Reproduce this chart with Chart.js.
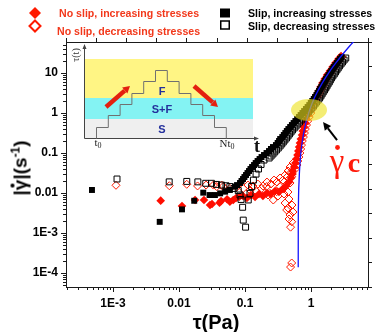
<!DOCTYPE html>
<html>
<head>
<meta charset="utf-8">
<script src="https://cdn.jsdelivr.net/npm/chart.js@4.4.1/dist/chart.umd.min.js"></script>
<style>
  body { margin: 0; background: #fff; }
  #box { position: relative; width: 379px; height: 332px; overflow: hidden; background: #fff; }
  #box canvas { position: absolute; left: 0; top: 0; }
  .t { position: absolute; white-space: nowrap; line-height: 1; transform: translate(-50%, -50%); font-family: "Liberation Sans", Arial, sans-serif; color: #000; }
  .l { transform: translate(0, -50%); }
  .leg { font-size: 10.6px; font-weight: bold; }
  .red { color: #f2381b; }
  .ins { color: #24309c; font-size: 11px; font-weight: bold; }
  .serif { font-family: "Liberation Serif", "Times New Roman", serif; }
  .ytitle { transform: translate(-50%, -50%) rotate(-90deg); font-size: 19px; font-weight: bold; }
  .gdot { position: relative; display: inline-block; }
  .gdot i { position: absolute; left: 3px; top: 0px; width: 4px; height: 4px; border-radius: 50%; background: #000; }
  sup { font-size: 12px; vertical-align: 7px; line-height: 0; }
  sub { font-size: 8px; vertical-align: -2px; line-height: 0; }
</style>
</head>
<body>
<div id="box">
  <canvas id="chart" width="379" height="332"></canvas>

  <div class="t l leg red" style="left:59px;top:13px">No slip, increasing stresses</div>
  <div class="t l leg red" style="left:57px;top:31px">No slip, decreasing stresses</div>
  <div class="t l leg" style="left:248px;top:13px">Slip, increasing stresses</div>
  <div class="t l leg" style="left:248px;top:26px">Slip, decreasing stresses</div>

  <div class="t ins" style="left:162px;top:91px">F</div>
  <div class="t ins" style="left:162px;top:109px">S+F</div>
  <div class="t ins" style="left:162px;top:129px">S</div>
  <div class="t serif" style="left:98px;top:142px;font-size:11px;color:#222">t<sub>0</sub></div>
  <div class="t serif" style="left:227px;top:143px;font-size:11px;color:#222">Nt<sub>0</sub></div>
  <div class="t serif" style="left:257px;top:146px;font-size:18px;font-weight:bold;color:#111">t</div>
  <div class="t serif" style="left:76px;top:55px;font-size:10px;color:#333;transform:translate(-50%,-50%) rotate(-90deg)">τ(t)</div>

  <div class="t serif" style="left:337px;top:161px;font-size:33px;color:#ff1a0a">γ</div>
  <div class="t serif" style="left:354px;top:163px;font-size:28px;font-weight:bold;color:#ff1a0a">c</div>

  <div class="t ytitle" style="left:20px;top:168px">|<span class="gdot">γ<i></i></span>|(s<sup>-1</sup>)</div>
  <div class="t" style="left:216px;top:322px;font-size:20px;font-weight:bold">τ(Pa)</div>
</div>

<script>
// axis ranges and tick labels
const tauMin = 1.94e-4, tauMax = 7.3;
const rateMin = 4.47e-5, rateMax = 59.6;
const xTickValues = [1e-3, 0.01, 0.1, 1];
const xTickLabels = ['1E-3', '0.01', '0.1', '1'];
const yTickValues = [1e-4, 1e-3, 0.01, 0.1, 1, 10];
const yTickLabels = ['1E-4', '1E-3', '0.01', '0.1', '1', '10'];

// no slip, increasing stresses (red filled diamonds)
const noSlipIncTau = [0.00528, 0.0111, 0.0175, 0.0239, 0.0295, 0.0316, 0.0411, 0.0434, 0.0535, 0.059, 0.0663, 0.0732, 0.0819,
  0.0933, 0.107, 0.123, 0.142, 0.163, 0.187, 0.215, 0.247, 0.285, 0.327, 0.376, 0.418, 0.464, 0.498, 0.525,
  0.526, 0.557, 0.58, 0.599, 0.624, 0.642, 0.66, 0.679, 0.701, 0.731, 0.749, 0.78, 0.814, 0.852, 0.901, 0.952,
  1.007, 1.065, 1.13, 1.21, 1.3, 1.39, 1.49, 1.61, 1.75, 1.93, 2.12, 2.34, 2.6, 2.85];
const noSlipIncRate = [0.00645, 0.00473, 0.00668, 0.00668, 0.00501, 0.00531, 0.00572, 0.00631, 0.00696, 0.00606, 0.00668, 0.0075, 0.00808,
  0.00841, 0.0075, 0.00891, 0.00794, 0.00944, 0.00841, 0.01, 0.00944, 0.0112, 0.0106, 0.0126, 0.015, 0.0188, 0.0237, 0.0299,
  0.0355, 0.0447, 0.0562, 0.0708, 0.0891, 0.112, 0.141, 0.178, 0.224, 0.282, 0.355, 0.447, 0.562, 0.708, 0.891, 1.12,
  1.41, 1.78, 2.24, 2.82, 3.55, 4.47, 5.62, 7.08, 8.91, 11.2, 14.1, 17.8, 22.4, 26.6];

// no slip, decreasing stresses (red open diamonds)
const noSlipDecTau = [0.00111, 0.00713, 0.0131, 0.0191, 0.0257, 0.0332, 0.0373, 0.0443, 0.0464, 0.059, 0.0749, 0.094, 0.119, 0.15,
  0.179, 0.213, 0.239, 0.268, 0.302, 0.339, 0.38,
  0.111, 0.132, 0.157, 0.187, 0.215, 0.247, 0.275, 0.305, 0.339, 0.376, 0.404, 0.433, 0.448, 0.481, 0.506, 0.534,
  0.223, 0.316, 0.39, 0.448,
  0.464, 0.404, 0.515, 0.428, 0.448, 0.481, 0.534, 0.51, 0.464, 0.49, 0.51, 0.49, 0.481, 0.51,
  0.58, 0.614, 0.631, 0.656, 0.679, 0.698, 0.718, 0.738, 0.767, 0.794, 0.82, 0.855, 0.891, 0.939, 0.993,
  1.05, 1.11, 1.17, 1.25, 1.35, 1.44, 1.55, 1.66, 1.8, 1.97, 2.17, 2.39, 2.63, 2.96];
const noSlipDecRate = [0.0156, 0.0152, 0.0165, 0.015, 0.0158, 0.0158, 0.0145, 0.0158, 0.0145, 0.013, 0.0141, 0.013, 0.0119, 0.0108,
  0.013, 0.0145, 0.0098, 0.00668, 0.0108, 0.0145, 0.013,
  0.0158, 0.015, 0.0167, 0.015, 0.0188, 0.0168, 0.0211, 0.0188, 0.0237, 0.0211, 0.0282, 0.0251, 0.0355, 0.0447, 0.0335, 0.0562,
  0.00891, 0.00841, 0.00944, 0.0106,
  0.00708, 0.00562, 0.00501, 0.00376, 0.00422, 0.00282, 0.00335, 0.00191, 0.00224, 0.0014, 0.000178, 0.000141, 0.0178, 0.0255,
  0.0398, 0.0501, 0.0631, 0.0794, 0.1, 0.126, 0.158, 0.2, 0.251, 0.316, 0.398, 0.501, 0.631, 0.794, 1.0,
  1.26, 1.58, 2.0, 2.51, 3.16, 3.98, 5.01, 6.31, 7.94, 10.0, 12.6, 15.8, 20.0, 25.1];

// slip, increasing stresses (black filled squares)
const slipIncTau = [0.00048, 0.0051, 0.0111, 0.017, 0.0233, 0.029, 0.035, 0.042, 0.05, 0.059, 0.0706,
  0.0757, 0.084, 0.0885, 0.0933, 0.098, 0.1036, 0.109, 0.115, 0.121, 0.128, 0.137, 0.145, 0.155, 0.166, 0.178, 0.194,
  0.212, 0.231, 0.247, 0.265, 0.294, 0.312, 0.328, 0.341, 0.367, 0.387, 0.408, 0.43, 0.454, 0.483, 0.513, 0.545,
  0.58, 0.616, 0.656, 0.696, 0.741, 0.786, 0.837, 0.888, 0.941, 0.991, 1.045, 1.1, 1.15, 1.21, 1.26, 1.32,
  1.37, 1.43, 1.49, 1.55, 1.62, 1.68, 1.76, 1.84, 1.93, 2.02, 2.12, 2.21, 2.33, 2.46, 2.59, 2.74, 2.9];
const slipIncRate = [0.0119, 0.0019, 0.0039, 0.0064, 0.0102, 0.0089, 0.0089, 0.0098, 0.0108, 0.0119, 0.0145,
  0.0158, 0.0178, 0.02, 0.0224, 0.0251, 0.0282, 0.0316, 0.0355, 0.0398, 0.0447, 0.0501, 0.0562, 0.0631, 0.0708, 0.0794, 0.0891,
  0.1, 0.112, 0.126, 0.141, 0.158, 0.178, 0.2, 0.224, 0.251, 0.282, 0.316, 0.355, 0.398, 0.447, 0.501, 0.562,
  0.631, 0.708, 0.794, 0.891, 1.0, 1.12, 1.26, 1.41, 1.58, 1.78, 2.0, 2.24, 2.51, 2.82, 3.16, 3.55,
  3.98, 4.47, 5.01, 5.62, 6.31, 7.08, 7.94, 8.91, 10.0, 11.2, 12.6, 14.1, 15.8, 17.8, 20.0, 22.4, 25.1];

// slip, decreasing stresses (black open squares)
const slipDecTau = [0.00115, 0.0071, 0.0131, 0.0193, 0.0254, 0.031, 0.037, 0.044, 0.0515, 0.059, 0.068, 0.079,
  0.084, 0.087, 0.092, 0.094, 0.102, 0.112, 0.119, 0.126, 0.134, 0.147, 0.16, 0.175, 0.194,
  0.232, 0.248, 0.265, 0.282, 0.3, 0.319, 0.34, 0.36, 0.38, 0.402, 0.426, 0.448, 0.472, 0.498, 0.525, 0.557,
  0.593, 0.63, 0.67, 0.712, 0.756, 0.804, 0.855, 0.909, 0.966, 1.026, 1.091, 1.15, 1.21, 1.28, 1.35, 1.41,
  1.47, 1.53, 1.6, 1.67, 1.74, 1.81, 1.89, 1.96, 2.04, 2.14, 2.25, 2.35, 2.46, 2.58, 2.7, 2.85, 3.0, 3.17, 3.36];
const slipDecRate = [0.0224, 0.019, 0.0195, 0.019, 0.0175, 0.0175, 0.0164, 0.0158, 0.0152, 0.0145, 0.013, 0.0115,
  0.00891, 0.0069, 0.0044, 0.0021, 0.0014, 0.0067, 0.0098, 0.0145, 0.021, 0.0297, 0.0398, 0.0517, 0.0667,
  0.075, 0.0841, 0.0944, 0.106, 0.119, 0.133, 0.15, 0.168, 0.188, 0.211, 0.237, 0.266, 0.299, 0.335, 0.376, 0.422,
  0.473, 0.531, 0.596, 0.668, 0.75, 0.841, 0.944, 1.06, 1.19, 1.33, 1.5, 1.68, 1.88, 2.11, 2.37, 2.66,
  2.99, 3.35, 3.76, 4.22, 4.73, 5.31, 5.96, 6.68, 7.5, 8.41, 9.44, 10.6, 11.9, 13.3, 15.0, 16.8, 18.8, 21.1, 23.7];

// fitted flow curve (blue line)
const fitTau = [0.64, 0.641, 0.645, 0.659, 0.678, 0.70, 0.769, 0.842, 0.938, 1.14, 1.47, 1.92, 2.45, 3.2, 3.88, 4.6];
const fitRate = [1.4e-4, 1e-3, 0.005, 0.02, 0.05, 0.1, 0.3, 0.6, 1.1, 2.5, 5.5, 11, 19, 33, 48, 66];

// critical shear rate marker (ellipse) and arrow, in data units
const critTau = 0.933, critRate = 1.19;
const arrowFrom = [2.48, 0.211], arrowTo = [1.52, 0.595];

function pts(xs, ys) {
  return xs.map((x, i) => ({ x: x, y: ys[i] }));
}

function arrow(ctx, x1, y1, x2, y2, w, head, half, color) {
  const a = Math.atan2(y2 - y1, x2 - x1);
  const bx = x2 - head * Math.cos(a), by = y2 - head * Math.sin(a);
  ctx.strokeStyle = color;
  ctx.lineWidth = w;
  ctx.beginPath();
  ctx.moveTo(x1, y1);
  ctx.lineTo(bx, by);
  ctx.stroke();
  ctx.fillStyle = color;
  ctx.beginPath();
  ctx.moveTo(x2, y2);
  ctx.lineTo(bx + half * Math.sin(a), by - half * Math.cos(a));
  ctx.lineTo(bx - half * Math.sin(a), by + half * Math.cos(a));
  ctx.closePath();
  ctx.fill();
}

function logTicks(ctx, scale, side) {
  const e0 = Math.floor(Math.log10(scale.min)), e1 = Math.ceil(Math.log10(scale.max));
  ctx.beginPath();
  for (let e = e0; e <= e1; e++) {
    for (let m = 1; m < 10; m++) {
      const v = m * Math.pow(10, e);
      if (v < scale.min || v > scale.max) continue;
      const p = Math.round(scale.getPixelForValue(v)) + 0.5;
      const len = m === 1 ? 5 : 3;
      if (side === 'bottom') {
        ctx.moveTo(p, scale.top);
        ctx.lineTo(p, scale.top + len);
      } else {
        ctx.moveTo(scale.right, p);
        ctx.lineTo(scale.right - len, p);
      }
    }
  }
  ctx.stroke();
}

const decor = {
  id: 'decor',
  afterDatasetsDraw(chart) {
    const ctx = chart.ctx;
    const xs = chart.scales.x, ys = chart.scales.y;
    ctx.save();

    // inset: regime bands
    ctx.fillStyle = '#fff584';
    ctx.fillRect(85, 59, 168, 39);
    ctx.fillStyle = '#84f3f3';
    ctx.fillRect(85, 98, 168, 21);
    ctx.fillStyle = '#efefef';
    ctx.fillRect(85, 119, 168, 19);

    // inset axes
    ctx.strokeStyle = '#444';
    ctx.lineWidth = 1;
    ctx.beginPath();
    ctx.moveTo(84.5, 138.5);
    ctx.lineTo(84.5, 47);
    ctx.moveTo(84.5, 138.5);
    ctx.lineTo(255, 138.5);
    ctx.stroke();
    ctx.fillStyle = '#444';
    ctx.beginPath();
    ctx.moveTo(84.5, 44); ctx.lineTo(82.5, 49); ctx.lineTo(86.5, 49); ctx.closePath();
    ctx.moveTo(259, 138.5); ctx.lineTo(254, 136.5); ctx.lineTo(254, 140.5); ctx.closePath();
    ctx.fill();

    // inset: stress staircase
    ctx.strokeStyle = '#707070';
    ctx.beginPath();
    let sx = 96.5;
    ctx.moveTo(sx, 138.5);
    for (const lv of [1, 2, 3, 4, 5, 6, 5, 4, 3, 2, 1]) {
      const sy = Math.round(138 - lv * 11.33) + 0.5;
      ctx.lineTo(sx, sy);
      sx += 11.8;
      ctx.lineTo(sx, sy);
    }
    ctx.lineTo(sx, 138.5);
    ctx.stroke();

    // inset: ramp arrows
    arrow(ctx, 106, 107, 130, 86, 4.5, 7, 4, '#e3200f');
    arrow(ctx, 194, 86, 218, 107, 4.5, 7, 4, '#e3200f');

    // critical point highlight
    const cx = xs.getPixelForValue(critTau), cy = ys.getPixelForValue(critRate);
    ctx.fillStyle = 'rgba(238, 226, 30, 0.62)';
    ctx.beginPath();
    ctx.ellipse(cx, cy, 18, 11, 0, 0, Math.PI * 2);
    ctx.fill();

    arrow(ctx, xs.getPixelForValue(arrowFrom[0]), ys.getPixelForValue(arrowFrom[1]),
      xs.getPixelForValue(arrowTo[0]), ys.getPixelForValue(arrowTo[1]), 2, 8, 4, '#000');

    // dot of gamma-dot label
    ctx.fillStyle = '#ff1a0a';
    ctx.beginPath();
    ctx.arc(337.5, 147.5, 2.4, 0, Math.PI * 2);
    ctx.fill();
    ctx.restore();
  },
  afterDraw(chart) {
    const ctx = chart.ctx;
    ctx.save();
    ctx.strokeStyle = '#1a1a1a';
    ctx.lineWidth = 1;
    logTicks(ctx, chart.scales.x, 'bottom');
    logTicks(ctx, chart.scales.y, 'left');

    // legend symbols
    ctx.fillStyle = '#ff1a00';
    ctx.beginPath();
    ctx.moveTo(35, 7); ctx.lineTo(41, 13); ctx.lineTo(35, 19); ctx.lineTo(29, 13); ctx.closePath();
    ctx.fill();
    ctx.strokeStyle = '#ff1a00';
    ctx.lineWidth = 2;
    ctx.beginPath();
    ctx.moveTo(35, 20.5); ctx.lineTo(40.5, 26); ctx.lineTo(35, 31.5); ctx.lineTo(29.5, 26); ctx.closePath();
    ctx.stroke();
    ctx.fillStyle = '#000';
    ctx.fillRect(220, 8.5, 10, 9);
    ctx.strokeStyle = '#000';
    ctx.lineWidth = 1.5;
    ctx.strokeRect(220.75, 21, 8.5, 8);
    ctx.restore();
  }
};

const ctx = document.getElementById('chart');
Chart.defaults.font.family = '"Liberation Sans", Arial, sans-serif';

const axisFont = { size: 12, weight: 'bold' };
const frame = { display: true, color: '#1a1a1a', width: 1 };

new Chart(ctx, {
  type: 'scatter',
  data: {
    datasets: [
      {
        label: 'Fit',
        data: pts(fitTau, fitRate),
        showLine: true,
        borderColor: '#1414ff',
        borderWidth: 1.3,
        pointRadius: 0,
        cubicInterpolationMode: 'monotone',
        order: 0
      },
      {
        label: 'Slip, increasing stresses',
        data: pts(slipIncTau, slipIncRate),
        pointStyle: 'rect',
        pointRadius: 4.2,
        backgroundColor: '#000',
        borderColor: '#000',
        borderWidth: 0,
        order: 1
      },
      {
        label: 'Slip, decreasing stresses',
        data: pts(slipDecTau, slipDecRate),
        pointStyle: 'rect',
        pointRadius: 4.2,
        backgroundColor: 'rgba(0,0,0,0)',
        borderColor: '#000',
        borderWidth: 1,
        order: 2
      },
      {
        label: 'No slip, increasing stresses',
        data: pts(noSlipIncTau, noSlipIncRate),
        pointStyle: 'rectRot',
        pointRadius: 4.3,
        backgroundColor: '#ff0d00',
        borderColor: '#ff0d00',
        borderWidth: 0,
        order: 3
      },
      {
        label: 'No slip, decreasing stresses',
        data: pts(noSlipDecTau, noSlipDecRate),
        pointStyle: 'rectRot',
        pointRadius: 4,
        backgroundColor: 'rgba(255,255,255,0)',
        borderColor: '#ff1a00',
        borderWidth: 1,
        order: 4
      }
    ]
  },
  options: {
    responsive: false,
    animation: false,
    events: [],
    layout: { padding: 0 },
    plugins: { legend: { display: false }, tooltip: { enabled: false } },
    scales: {
      x: {
        type: 'logarithmic',
        position: 'bottom',
        min: tauMin,
        max: tauMax,
        afterFit: s => { s.height = 45; },
        afterBuildTicks: s => { s.ticks = xTickValues.map(v => ({ value: v })); },
        grid: { display: true, drawOnChartArea: false, drawTicks: false },
        border: frame,
        ticks: { autoSkip: false, maxRotation: 0, padding: 9, color: '#000', font: axisFont, callback: (v, i) => xTickLabels[i] }
      },
      y: {
        type: 'logarithmic',
        position: 'left',
        min: rateMin,
        max: rateMax,
        afterFit: s => { s.width = 66; },
        afterBuildTicks: s => { s.ticks = yTickValues.map(v => ({ value: v })); },
        grid: { display: true, drawOnChartArea: false, drawTicks: false },
        border: frame,
        ticks: { autoSkip: false, padding: 8, color: '#000', font: axisFont, callback: (v, i) => yTickLabels[i] }
      },
      x2: {
        type: 'linear',
        position: 'top',
        min: 0,
        max: 10,
        afterFit: s => { s.height = 42; },
        grid: { drawOnChartArea: false, drawTicks: true, tickLength: 4, color: '#1a1a1a' },
        border: frame,
        ticks: { display: false, stepSize: 1 }
      },
      y2: {
        type: 'linear',
        position: 'right',
        min: 0,
        max: 10,
        afterFit: s => { s.width = 11; },
        grid: { drawOnChartArea: false, drawTicks: true, tickLength: 4, color: '#1a1a1a' },
        border: frame,
        ticks: { display: false, stepSize: 1 }
      }
    }
  },
  plugins: [decor]
});
</script>
</body>
</html>
